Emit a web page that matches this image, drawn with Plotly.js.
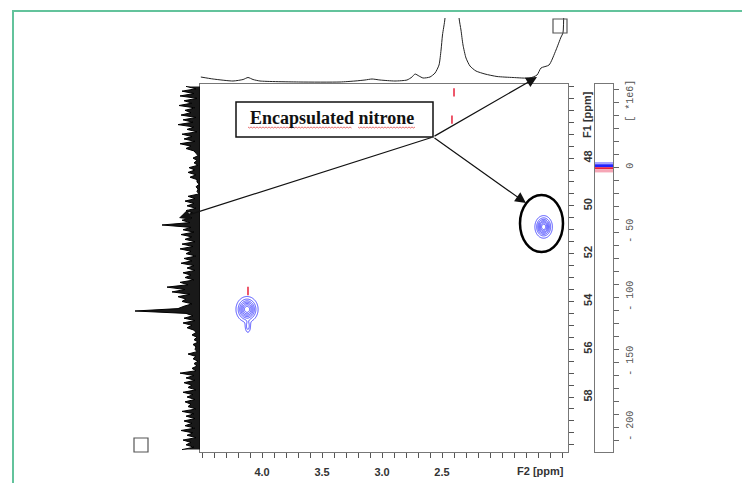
<!DOCTYPE html>
<html>
<head>
<meta charset="utf-8">
<script src="https://cdn.plot.ly/plotly-3.0.1.min.js"></script>
<style>html,body{margin:0;padding:0;background:#fff;}#chart{width:742px;height:483px;}</style>
</head>
<body>
<div id="chart"></div>
<script>
// ---- 2D cross peaks (F2 ppm, F1 ppm, sigma F2, sigma F1, amplitude)
const peakF2 = [1.653, 4.125, 4.118];
const peakF1 = [50.88, 54.33, 55.05];
const peakSigF2 = [0.034, 0.043, 0.014];
const peakSigF1 = [0.22, 0.25, 0.16];
const peakAmp = [1.0, 1.0, 0.3];
const peakMain = [0, 1];           // peaks that get their own contour window

// ---- small negative (red) signals
const negF2 = [2.40, 2.417, 4.117];
const negF1 = [45.25, 46.39, 53.56];

// ---- F2 projection (top): ppm and intensity
const f2ProjPpm = [4.51, 4.408, 4.242, 4.158, 4.117, 4.075, 4.017, 3.683, 3.35, 3.225, 3.142, 3.083, 3.017, 2.892, 2.792, 2.75, 2.725, 2.692, 2.658, 2.6, 2.558, 2.525, 2.508, 2.496, 2.475, 2.433, 2.358, 2.342, 2.325, 2.30, 2.267, 2.217, 2.142, 2.042, 1.908, 1.767, 1.708, 1.675, 1.608, 1.55, 1.508, 1.492, 1.485];
const f2ProjInt = [7, 5, 3, 4.5, 6.5, 4.5, 3, 2, 2, 3, 4, 5, 4, 3, 4, 7, 10, 8, 6, 7, 11, 19, 34, 49, 66, 200, 66, 54, 39, 26, 18, 13, 10, 7.5, 6.5, 6, 9, 16, 19, 34, 47, 51, 80];

// ---- F1 projection (left): intensity sampled every 0.1 ppm from 45.0 ppm
const f1ProjStart = 45.0, f1ProjStep = 0.1;
const f1ProjInt = [14,4,18,6,20,3,16,8,21,5,15,9,19,4,17,7,22,6,13,3,18,8,16,5,20,9,14,6,
  4,2,7,3,6,2,
  11,5,12,4,10,3,
  3,1,4,2,3,1,
  12,5,15,6,13,4,14,7,16,
  8,18,10,38,
  9,17,6,19,8,15,5,18,7,20,9,14,4,16,8,19,6,13,5,17,9,15,6,
  20,12,33,15,28,10,22,14,
  18,8,16,22,
  65,
  14,7,16,5,17,8,13,6,
  4,8,3,6,2,7,4,5,3,12,4,7,2,6,3,8,4,
  20,
  6,14,5,16,8,12,4,17,7,13,5,15,9,12,4,18,6,14,5,16,
  8,15,5,19,7,13,4,17,9,14,6,18];
const f1ProjPpm = f1ProjInt.map((_, i) => +(f1ProjStart + f1ProjStep * i).toFixed(2));

// ---- axis tick labels
const f2TickLabels = {"4.0": "4.0", "3.5": "3.5", "3.0": "3.0", "2.5": "2.5"};
const f1TickLabels = {"48": "48", "50": "50", "52": "52", "54": "54", "56": "56", "58": "58"};
const cbTickLabels = {"50": "[ *1e6]", "0": "0", "-50": "- 50", "-100": "- 100", "-150": "- 150", "-200": "- 200"};

// ---- colour-bar levels (in 1e6 units) and their colours
const cbLevels = [4.0, 2.3, 0, -1.5, -4.0];
const cbColors = ['#a4a4ff', '#2323ff', '#e8203a', '#f6a6b6'];

// ---------------------------------------------------------------
const W = 742, H = 483;
const px = x => x / W, py = y => 1 - y / H;

function peakSurface(mainIdx) {
  const cx = peakF2[mainIdx], cy = peakF1[mainIdx];
  const xs = [], ys = [], z = [];
  for (let i = 0; i <= 80; i++) xs.push(cx - 0.16 + 0.32 * i / 80);
  for (let j = 0; j <= 140; j++) ys.push(cy - 1.4 + 2.8 * j / 140);
  for (const y of ys) {
    const row = [];
    for (const x of xs) {
      let v = 0;
      for (let k = 0; k < peakF2.length; k++) {
        const dx = (x - peakF2[k]) / peakSigF2[k], dy = (y - peakF1[k]) / peakSigF1[k];
        v += peakAmp[k] * Math.exp(-0.5 * (dx * dx + dy * dy));
      }
      row.push(v);
    }
    z.push(row);
  }
  return {xs, ys, z};
}

const traces = [];
for (const m of peakMain) {
  const s = peakSurface(m);
  traces.push({
    type: 'contour', x: s.xs, y: s.ys, z: s.z, xaxis: 'x', yaxis: 'y',
    autocontour: false, contours: {start: 0.1, end: 0.95, size: 0.13, coloring: 'lines'},
    colorscale: [[0, '#3a3aff'], [1, '#3a3aff']], showscale: false,
    line: {width: 0.9}, hoverinfo: 'skip'
  });
}
traces.push({
  type: 'scatter', mode: 'markers', x: negF2, y: negF1, xaxis: 'x', yaxis: 'y',
  marker: {symbol: 'line-ns', size: 6, line: {color: '#e8203a', width: 1.5}}, hoverinfo: 'skip'
});
// top projection
traces.push({
  type: 'scatter', mode: 'lines', x: f2ProjPpm, y: f2ProjInt, xaxis: 'x', yaxis: 'y2',
  line: {color: '#222', width: 1, shape: 'spline', smoothing: 0.6}, hoverinfo: 'skip'
});
// left projection
traces.push({
  type: 'scatter', mode: 'lines', x: f1ProjInt, y: f1ProjPpm, xaxis: 'x2', yaxis: 'y',
  line: {color: '#000', width: 1}, fill: 'tozerox', fillcolor: 'rgba(0,0,0,0.9)', hoverinfo: 'skip'
});
// colour bar placeholder trace
traces.push({type: 'scatter', mode: 'markers', x: [0.5], y: [0], xaxis: 'x3', yaxis: 'y3',
  marker: {size: 1, opacity: 0}, hoverinfo: 'skip'});

const f2TickVals = [];
for (let i = 45; i >= 15; i--) f2TickVals.push(+(i / 10).toFixed(1));
const f2TickText = f2TickVals.map(v => f2TickLabels[v.toFixed(1)] || '');
const f1TickVals = [];
for (let i = 90; i <= 120; i++) f1TickVals.push(i / 2);
const f1TickText = f1TickVals.map(v => f1TickLabels[String(v)] || '');
const cbTickVals = [];
for (let v = -210; v <= 60; v += 10) cbTickVals.push(v);
const cbTickText = cbTickVals.map(v => cbTickLabels[String(v)] || '');

const tickFont = {family: 'Liberation Sans, Arial, sans-serif', size: 11, color: '#333', weight: 'bold'};
const mainYDom = [py(452), py(84)];

const shapes = [];
// green outer border
shapes.push({type: 'rect', xref: 'paper', yref: 'paper', x0: px(13), x1: px(760), y0: py(500), y1: py(11),
  line: {color: '#63c39c', width: 2}});
// little squares
shapes.push({type: 'rect', xref: 'paper', yref: 'paper', x0: px(134), x1: px(148), y0: py(452), y1: py(438),
  line: {color: '#555', width: 1.2}});
shapes.push({type: 'rect', xref: 'paper', yref: 'paper', x0: px(553), x1: px(567), y0: py(33), y1: py(19),
  line: {color: '#555', width: 1.2}});
// colour bar bands
for (let i = 0; i < cbColors.length; i++) {
  shapes.push({type: 'rect', xref: 'x3', yref: 'y3', x0: 0, x1: 1, y0: cbLevels[i + 1], y1: cbLevels[i],
    fillcolor: cbColors[i], line: {width: 0}, layer: 'above'});
}
// annotation text box
shapes.push({type: 'rect', xref: 'paper', yref: 'paper', x0: px(236), x1: px(433), y0: py(137), y1: py(102),
  line: {color: '#111', width: 1.5}, fillcolor: 'white'});
// ellipse around peak
shapes.push({type: 'circle', xref: 'paper', yref: 'paper', x0: px(520), x1: px(563), y0: py(252), y1: py(195),
  line: {color: '#000', width: 2.5}});
// red wavy underlines (spell-check decoration)
function wavy(x0, x1, y) {
  let d = 'M' + px(x0) + ',' + py(y);
  let k = 0;
  for (let x = x0 + 1.5; x <= x1; x += 1.5) {
    k++;
    d += ' L' + px(x) + ',' + py(y + (k % 2 ? 1.0 : 0));
  }
  return {type: 'path', xref: 'paper', yref: 'paper', path: d, line: {color: '#e03030', width: 0.7}};
}
shapes.push(wavy(248, 352, 127));
shapes.push(wavy(358, 416, 127));

const annotations = [
  {xref: 'paper', yref: 'paper', x: px(332), y: py(118), xanchor: 'center', yanchor: 'middle',
    text: 'Encapsulated nitrone', showarrow: false,
    font: {family: 'Liberation Serif, Times New Roman, serif', size: 18, color: '#111', weight: 'bold'}},
  {xref: 'paper', yref: 'paper', x: px(540), y: py(471), xanchor: 'center', yanchor: 'middle',
    text: 'F2 [ppm]', showarrow: false, font: tickFont},
  {xref: 'paper', yref: 'paper', x: px(587), y: py(115), xanchor: 'center', yanchor: 'middle',
    text: 'F1 [ppm]', showarrow: false, textangle: -90, font: tickFont},
];
const arrowTail = [433, 137];
const arrowTips = [[179, 218], [537, 77], [526, 203]];
for (const t of arrowTips) {
  annotations.push({xref: 'paper', yref: 'paper', x: px(t[0]), y: py(t[1]), text: '', showarrow: true,
    ax: arrowTail[0] - t[0], ay: arrowTail[1] - t[1], arrowhead: 2, arrowsize: 1.8, arrowwidth: 1.2,
    arrowcolor: '#111', standoff: 0, startstandoff: 0});
}

const layout = {
  width: W, height: H, margin: {l: 0, r: 0, t: 0, b: 0}, paper_bgcolor: '#fff', plot_bgcolor: 'rgba(0,0,0,0)',
  showlegend: false,
  xaxis: {domain: [px(200), px(568)], range: [4.517, 1.45], anchor: 'y', side: 'bottom',
    showline: true, mirror: true, linecolor: '#777', linewidth: 1, showgrid: false, zeroline: false,
    ticks: 'outside', ticklen: 5, tickcolor: '#555', tickvals: f2TickVals, ticktext: f2TickText,
    tickfont: tickFont, ticklabelstandoff: 5},
  yaxis: {domain: mainYDom, range: [60.3, 44.9], anchor: 'x', side: 'right',
    showline: true, mirror: true, linecolor: '#777', linewidth: 1, showgrid: false, zeroline: false,
    ticks: 'outside', ticklen: 5, tickcolor: '#555', tickvals: f1TickVals, ticktext: f1TickText,
    tickangle: -90, tickfont: tickFont, ticklabelstandoff: 5},
  xaxis2: {domain: [px(100), px(200)], range: [100, 0], anchor: 'y', visible: false},
  yaxis2: {domain: [py(84), py(18)], range: [0, 66], anchor: 'x', visible: false},
  xaxis3: {domain: [px(595), px(613)], range: [0, 1], anchor: 'y3', showline: true, mirror: true,
    linecolor: '#777', showgrid: false, zeroline: false, ticks: '', showticklabels: false},
  yaxis3: {domain: mainYDom, range: [-219, 64], anchor: 'x3', side: 'right', showline: true, mirror: true,
    linecolor: '#777', showgrid: false, zeroline: false, ticks: 'outside', ticklen: 5, tickcolor: '#666',
    tickvals: cbTickVals, ticktext: cbTickText, tickangle: -90,
    tickfont: {family: 'Liberation Mono, DejaVu Sans Mono, monospace', size: 10, color: '#555'}, ticklabelstandoff: 2},
  shapes: shapes,
  annotations: annotations
};

Plotly.newPlot('chart', traces, layout, {staticPlot: true, displayModeBar: false});
</script>
</body>
</html>
